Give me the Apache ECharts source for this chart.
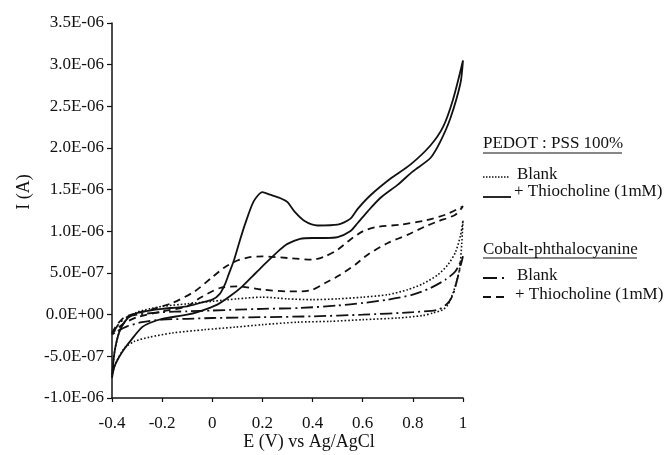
<!DOCTYPE html>
<html><head><meta charset="utf-8">
<script src="https://cdn.jsdelivr.net/npm/echarts@6/dist/echarts.min.js"></script>
<style>html,body{margin:0;padding:0;background:#fff}#c{width:666px;height:455px}</style>
</head><body><div id="c"></div>
<script>
// Potential E (V) vs Ag/AgCl, current I (A); each series is a closed CV loop
const xTicks = ['-0.4','-0.2','0','0.2','0.4','0.6','0.8','1'];
const yTicks = ['-1.0E-06','-5.0E-07','0.0E+00','5.0E-07','1.0E-06','1.5E-06','2.0E-06','2.5E-06','3.0E-06','3.5E-06'];

const pedotBlank = [
  [-0.4,-0.72e-6],[-0.39,-0.45e-6],[-0.37,-0.2e-6],[-0.34,-0.05e-6],[-0.3,0.03e-6],[-0.25,0.07e-6],[-0.2,0.1e-6],
  [-0.1,0.13e-6],[0,0.16e-6],[0.1,0.19e-6],[0.2,0.21e-6],[0.3,0.19e-6],[0.4,0.18e-6],[0.5,0.19e-6],[0.6,0.21e-6],
  [0.7,0.24e-6],[0.78,0.3e-6],[0.84,0.37e-6],[0.9,0.48e-6],[0.94,0.6e-6],[0.97,0.75e-6],[0.99,0.95e-6],[1.0,1.13e-6],
  [0.995,0.85e-6],[0.987,0.56e-6],[0.975,0.4e-6],[0.96,0.26e-6],[0.94,0.12e-6],[0.92,0.06e-6],[0.88,0.02e-6],
  [0.84,-0.01e-6],[0.74,-0.04e-6],[0.6,-0.06e-6],[0.47,-0.08e-6],[0.34,-0.09e-6],[0.2,-0.12e-6],[0.09,-0.15e-6],
  [-0.03,-0.18e-6],[-0.16,-0.22e-6],[-0.25,-0.27e-6],[-0.31,-0.32e-6],[-0.35,-0.4e-6],[-0.385,-0.58e-6],[-0.4,-0.72e-6]
];
const pedotThio = [
  [-0.4,-0.76e-6],[-0.39,-0.45e-6],[-0.37,-0.2e-6],[-0.34,-0.05e-6],[-0.3,0.02e-6],[-0.25,0.05e-6],[-0.2,0.07e-6],
  [-0.1,0.1e-6],[-0.05,0.14e-6],[0,0.18e-6],[0.03,0.25e-6],[0.05,0.36e-6],[0.065,0.48e-6],[0.085,0.64e-6],
  [0.105,0.84e-6],[0.13,1.08e-6],[0.165,1.36e-6],[0.2,1.47e-6],[0.23,1.44e-6],[0.27,1.4e-6],[0.3,1.35e-6],
  [0.33,1.23e-6],[0.37,1.12e-6],[0.42,1.07e-6],[0.5,1.08e-6],[0.55,1.15e-6],[0.58,1.27e-6],[0.63,1.43e-6],
  [0.71,1.63e-6],[0.79,1.8e-6],[0.87,2.03e-6],[0.92,2.25e-6],[0.96,2.58e-6],[1.0,3.05e-6],
  [0.99,2.78e-6],[0.95,2.36e-6],[0.91,2.08e-6],[0.87,1.88e-6],[0.8,1.72e-6],[0.74,1.56e-6],[0.67,1.4e-6],
  [0.62,1.24e-6],[0.58,1.1e-6],[0.55,1.0e-6],[0.5,0.93e-6],[0.45,0.92e-6],[0.4,0.92e-6],[0.35,0.91e-6],
  [0.3,0.85e-6],[0.27,0.78e-6],[0.2,0.58e-6],[0.16,0.46e-6],[0.12,0.34e-6],[0.07,0.22e-6],[0.02,0.12e-6],
  [-0.05,0.04e-6],[-0.1,0.0e-6],[-0.2,-0.05e-6],[-0.25,-0.1e-6],[-0.28,-0.15e-6],[-0.32,-0.29e-6],
  [-0.36,-0.45e-6],[-0.39,-0.62e-6],[-0.4,-0.76e-6]
];
const copcBlank = [
  [-0.4,-0.24e-6],[-0.37,-0.1e-6],[-0.34,-0.03e-6],[-0.3,0.0e-6],[-0.2,0.03e-6],[-0.1,0.04e-6],[0,0.05e-6],
  [0.1,0.06e-6],[0.2,0.07e-6],[0.35,0.08e-6],[0.5,0.11e-6],[0.6,0.14e-6],[0.7,0.18e-6],[0.8,0.24e-6],
  [0.87,0.32e-6],[0.93,0.42e-6],[0.97,0.52e-6],[1.0,0.7e-6],
  [0.99,0.58e-6],[0.975,0.4e-6],[0.96,0.24e-6],[0.94,0.14e-6],[0.9,0.06e-6],[0.8,0.03e-6],[0.6,0.0e-6],
  [0.4,-0.02e-6],[0.2,-0.03e-6],[0,-0.04e-6],[-0.1,-0.05e-6],[-0.2,-0.06e-6],[-0.28,-0.09e-6],
  [-0.34,-0.14e-6],[-0.38,-0.2e-6],[-0.4,-0.24e-6]
];
const copcThio = [
  [-0.4,-0.22e-6],[-0.38,-0.12e-6],[-0.35,-0.03e-6],[-0.3,0.02e-6],[-0.27,0.04e-6],[-0.16,0.14e-6],
  [-0.07,0.28e-6],[0,0.45e-6],[0.05,0.57e-6],[0.1,0.65e-6],[0.15,0.69e-6],[0.2,0.7e-6],[0.3,0.68e-6],
  [0.4,0.66e-6],[0.45,0.7e-6],[0.5,0.78e-6],[0.55,0.9e-6],[0.6,1.0e-6],[0.65,1.05e-6],[0.75,1.08e-6],
  [0.85,1.13e-6],[0.93,1.2e-6],[1.0,1.3e-6],
  [0.97,1.2e-6],[0.9,1.12e-6],[0.85,1.06e-6],[0.78,0.96e-6],[0.7,0.86e-6],[0.62,0.72e-6],[0.57,0.6e-6],
  [0.5,0.46e-6],[0.45,0.38e-6],[0.4,0.3e-6],[0.35,0.28e-6],[0.3,0.28e-6],[0.2,0.3e-6],[0.1,0.34e-6],
  [0.03,0.32e-6],[-0.05,0.2e-6],[-0.1,0.1e-6],[-0.2,0.04e-6],[-0.3,-0.03e-6],[-0.35,-0.1e-6],
  [-0.38,-0.17e-6],[-0.4,-0.22e-6]
];

const FONT = "'Liberation Serif','Times New Roman',serif";
const INK = '#111';

function fmtY(v){
  const i = Math.round(v/5e-7);
  return yTicks[i+2] !== undefined ? yTicks[i+2] : '';
}
function fmtX(v){
  const i = Math.round((v+0.4)/0.2);
  return xTicks[i] !== undefined ? xTicks[i] : '';
}

const chart = echarts.init(document.getElementById('c'), null, {renderer:'canvas'});
const line = (name, data, type, width) => ({
  name, type:'line', data, showSymbol:false, symbol:'none', smooth:0.25, animation:false,
  lineStyle:{color:INK, width, type}
});

const lx = 483;
chart.setOption({
  animation:false,
  backgroundColor:'#fff',
  grid:{left:112, right:203, top:23, bottom:57, containLabel:false},
  xAxis:{
    type:'value', min:-0.4, max:1, interval:0.2,
    axisLine:{onZero:false, lineStyle:{color:INK, width:1.5}},
    axisTick:{show:true, length:4, lineStyle:{color:INK, width:1.2}},
    axisLabel:{formatter:fmtX, color:INK, fontFamily:FONT, fontSize:17, margin:17},
    splitLine:{show:false}
  },
  yAxis:{
    type:'value', min:-1e-6, max:3.5e-6, interval:5e-7,
    axisLine:{show:true, onZero:false, lineStyle:{color:INK, width:1.5}},
    axisTick:{show:true, length:5, lineStyle:{color:INK, width:1.2}},
    axisLabel:{formatter:fmtY, color:INK, fontFamily:FONT, fontSize:17, margin:8},
    splitLine:{show:false}
  },
  series:[
    line('PEDOT : PSS 100% Blank', pedotBlank, [1.6,2], 1.6),
    line('PEDOT : PSS 100% + Thiocholine (1mM)', pedotThio, 'solid', 1.8),
    line('Cobalt-phthalocyanine Blank', copcBlank, [12,4,2,4], 1.8),
    line('Cobalt-phthalocyanine + Thiocholine (1mM)', copcThio, [7,5], 1.8)
  ],
  graphic:[
    {type:'text', x:24, y:192, rotation:Math.PI/2, style:{text:'I (A)', font:'18px '+FONT, fill:INK, textAlign:'center', textVerticalAlign:'middle'}},
    {type:'text', x:309, y:442, style:{text:'E (V) vs Ag/AgCl', font:'18px '+FONT, fill:INK, textAlign:'center', textVerticalAlign:'middle'}},
    {type:'text', x:lx, y:144, style:{text:'PEDOT : PSS 100%', font:'17px '+FONT, fill:INK, textAlign:'left', textVerticalAlign:'middle'}},
    {type:'line', shape:{x1:lx, y1:153, x2:622, y2:153}, style:{stroke:INK, lineWidth:1}},
    {type:'line', shape:{x1:lx, y1:177, x2:510, y2:177}, style:{stroke:INK, lineWidth:1.6, lineDash:[1.5,1.5]}},
    {type:'text', x:517, y:175, style:{text:'Blank', font:'17px '+FONT, fill:INK, textAlign:'left', textVerticalAlign:'middle'}},
    {type:'line', shape:{x1:lx, y1:197, x2:511, y2:197}, style:{stroke:INK, lineWidth:1.8}},
    {type:'text', x:514, y:192, style:{text:'+ Thiocholine (1mM)', font:'17px '+FONT, fill:INK, textAlign:'left', textVerticalAlign:'middle'}},
    {type:'text', x:lx, y:250, style:{text:'Cobalt-phthalocyanine', font:'17px '+FONT, fill:INK, textAlign:'left', textVerticalAlign:'middle'}},
    {type:'line', shape:{x1:lx, y1:258, x2:637, y2:258}, style:{stroke:INK, lineWidth:1}},
    {type:'line', shape:{x1:lx, y1:278, x2:506, y2:278}, style:{stroke:INK, lineWidth:1.8, lineDash:[14,5,2,20]}},
    {type:'text', x:517, y:276, style:{text:'Blank', font:'17px '+FONT, fill:INK, textAlign:'left', textVerticalAlign:'middle'}},
    {type:'line', shape:{x1:lx, y1:297, x2:507, y2:297}, style:{stroke:INK, lineWidth:1.8, lineDash:[8,5]}},
    {type:'text', x:515, y:295, style:{text:'+ Thiocholine (1mM)', font:'17px '+FONT, fill:INK, textAlign:'left', textVerticalAlign:'middle'}}
  ]
});
</script></body></html>
